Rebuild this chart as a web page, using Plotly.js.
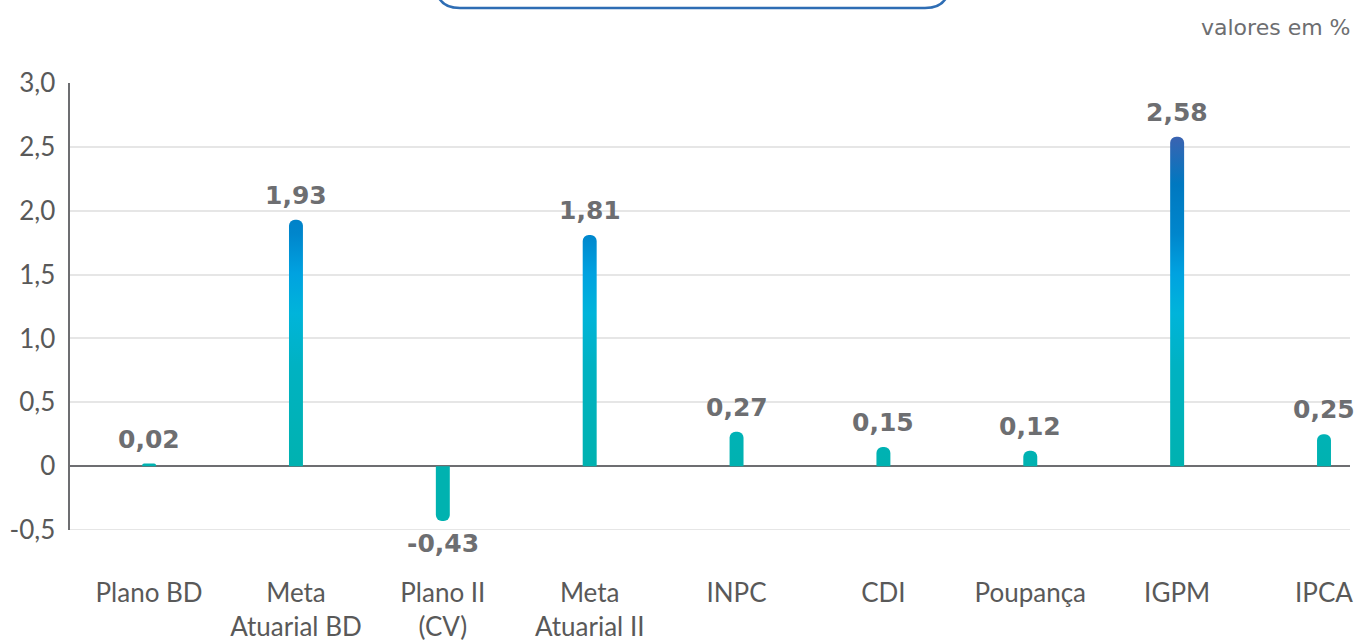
<!DOCTYPE html>
<html>
<head>
<meta charset="utf-8">
<script src="https://cdn.plot.ly/plotly-3.0.1.min.js"></script>
<style>
  html, body { margin: 0; padding: 0; background: #fff; }
  #chart { width: 1357px; height: 644px; }
</style>
</head>
<body>
<div id="chart"></div>
<script>
// ---- data ----
var categories = ['Plano BD', 'Meta<br>Atuarial BD', 'Plano II<br>(CV)', 'Meta<br>Atuarial II', 'INPC', 'CDI', 'Poupança', 'IGPM', 'IPCA'];
var values = [0.02, 1.93, -0.43, 1.81, 0.27, 0.15, 0.12, 2.58, 0.25];
var yTickVals = [-0.5, 0, 0.5, 1.0, 1.5, 2.0, 2.5, 3.0];
var yTickText = ['-0,5', '0', '0,5', '1,0', '1,5', '2,0', '2,5', '3,0'];
var unitNote = 'valores em %';

var labels = values.map(function (v) { return v.toFixed(2).replace('.', ','); });

var trace = {
  type: 'bar',
  x: categories,
  y: values,
  width: 0.095,
  marker: { color: '#00b2b0', cornerradius: 7, line: { width: 0 } },
  cliponaxis: false,
  hoverinfo: 'skip'
};

var L = 70, R = 7, T = 83, B = 114;
var W = 1357, H = 644;
var pw = W - L - R, ph = H - T - B;
function px2paperX(p) { return (p - L) / pw; }
function px2paperY(p) { return (H - B - p) / ph; }

var bx0 = px2paperX(436), bx1 = px2paperX(949);
var by = px2paperY(8), byTop = px2paperY(-30);
var rx = 24 / pw, ry = 24 / ph;
var boxPath = 'M ' + bx0 + ',' + byTop +
  ' L ' + bx0 + ',' + (by + ry) +
  ' Q ' + bx0 + ',' + by + ' ' + (bx0 + rx) + ',' + by +
  ' L ' + (bx1 - rx) + ',' + by +
  ' Q ' + bx1 + ',' + by + ' ' + bx1 + ',' + (by + ry) +
  ' L ' + bx1 + ',' + byTop;

var valueAnnotations = values.map(function (v, i) {
  return {
    x: categories[i], y: v, xref: 'x', yref: 'y',
    text: labels[i],
    showarrow: false,
    xanchor: 'center',
    yanchor: v >= 0 ? 'bottom' : 'top',
    yshift: v >= 0 ? 8 : -6,
    font: { family: 'DejaVu Sans', size: 25, color: '#6d6e71', weight: 'bold' }
  };
});

var layout = {
  width: W, height: H,
  margin: { l: L, r: R, t: T, b: B, pad: 0 },
  paper_bgcolor: '#ffffff',
  plot_bgcolor: '#ffffff',
  showlegend: false,
  separators: ',.',
  font: { family: 'Lato', size: 26, color: '#595959' },
  xaxis: {
    type: 'category',
    range: [-0.5386, 8.177],
    showgrid: false,
    zeroline: false,
    showline: false,
    ticks: 'outside',
    ticklen: 40,
    tickcolor: 'rgba(0,0,0,0)',
    tickfont: { family: 'Lato', size: 26, color: '#595959' },
    fixedrange: true
  },
  yaxis: {
    range: [-0.5, 3.0],
    tickvals: yTickVals,
    ticktext: yTickText,
    showgrid: true,
    gridcolor: '#e6e6e6',
    gridwidth: 2,
    zeroline: true,
    zerolinecolor: '#6d6e71',
    zerolinewidth: 2,
    showline: true,
    linecolor: '#6d6e71',
    linewidth: 2.5,
    ticks: '',
    ticklabelstandoff: 7,
    tickfont: { family: 'Lato', size: 26, color: '#595959' },
    fixedrange: true
  },
  shapes: [{
    type: 'path',
    xref: 'paper', yref: 'paper',
    path: boxPath,
    line: { color: '#2e6db4', width: 2.5 },
    fillcolor: 'rgba(0,0,0,0)'
  }, {
    type: 'line', layer: 'below',
    xref: 'paper', yref: 'y',
    x0: 0, x1: 1, y0: yTickVals[0], y1: yTickVals[0],
    line: { color: '#e6e6e6', width: 2 }
  }],
  annotations: [{
    text: unitNote,
    xref: 'paper', yref: 'paper',
    x: px2paperX(1353), y: px2paperY(27),
    xanchor: 'right', yanchor: 'middle',
    showarrow: false,
    font: { family: 'DejaVu Sans', size: 22, color: '#6d6e71' }
  }].concat(valueAnnotations),
  bargap: 0.9
};

var gd = document.getElementById('chart');
Plotly.newPlot(gd, [trace], layout, { staticPlot: true, displayModeBar: false }).then(function () {
  var svg = gd.querySelector('.main-svg');
  var ns = 'http://www.w3.org/2000/svg';
  var defs = svg.querySelector('defs');
  if (!defs) { defs = document.createElementNS(ns, 'defs'); svg.insertBefore(defs, svg.firstChild); }
  var ya = gd._fullLayout.yaxis;
  var y0 = ya.l2p(0), y1 = ya.l2p(2.6);
  var grad = document.createElementNS(ns, 'linearGradient');
  grad.setAttribute('id', 'barGrad');
  grad.setAttribute('gradientUnits', 'userSpaceOnUse');
  grad.setAttribute('x1', '0'); grad.setAttribute('x2', '0');
  grad.setAttribute('y1', String(y0)); grad.setAttribute('y2', String(y1));
  var stops = [[0, '#00b2b0'], [0.3, '#00b2c2'], [0.46, '#00b4da'], [0.58, '#00a2e0'], [0.7, '#0086cc'], [0.85, '#0078c0'], [1, '#3e62b0']];
  stops.forEach(function (s) {
    var st = document.createElementNS(ns, 'stop');
    st.setAttribute('offset', String(s[0]));
    st.setAttribute('stop-color', s[1]);
    grad.appendChild(st);
  });
  defs.appendChild(grad);
  gd.querySelectorAll('.barlayer .point path').forEach(function (p) {
    p.style.fill = 'url(#barGrad)';
  });
});
</script>
</body>
</html>
